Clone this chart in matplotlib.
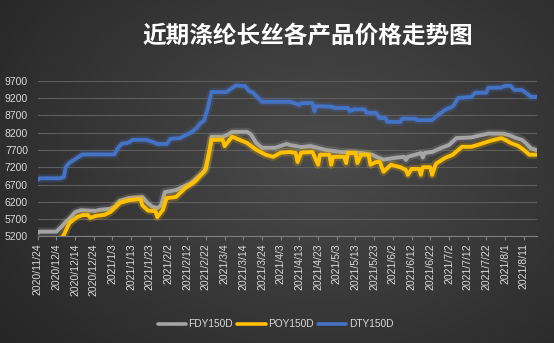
import matplotlib
matplotlib.use("Agg")
import matplotlib.pyplot as plt
import matplotlib.patheffects as pe
import numpy as np
import pandas as pd

plt.rcParams['font.family'] = ['Noto Sans CJK SC', 'DejaVu Sans']

title = "近期涤纶长丝各产品价格走势图"

dty_dates = ["2020-11-24", "2020-11-25", "2020-12-06", "2020-12-08", "2020-12-09", "2020-12-11",
             "2020-12-14", "2020-12-16", "2020-12-18", "2021-01-04", "2021-01-06", "2021-01-08",
             "2021-01-11", "2021-01-14", "2021-01-21", "2021-01-24", "2021-01-27", "2021-02-01",
             "2021-02-03", "2021-02-08", "2021-02-14", "2021-02-17", "2021-02-19", "2021-02-21",
             "2021-02-23", "2021-02-25", "2021-03-05", "2021-03-10", "2021-03-15", "2021-03-17",
             "2021-03-19", "2021-03-21", "2021-03-24", "2021-04-08", "2021-04-13", "2021-04-14",
             "2021-04-20", "2021-04-21", "2021-04-22", "2021-04-30", "2021-05-02", "2021-05-09",
             "2021-05-10", "2021-05-12", "2021-05-18", "2021-05-19", "2021-05-24", "2021-05-26",
             "2021-05-29", "2021-05-30", "2021-06-06", "2021-06-07", "2021-06-14", "2021-06-15",
             "2021-06-23", "2021-06-26", "2021-06-30", "2021-07-04", "2021-07-07", "2021-07-14",
             "2021-07-16", "2021-07-22", "2021-07-23", "2021-07-30", "2021-08-01", "2021-08-04",
             "2021-08-06", "2021-08-10", "2021-08-12", "2021-08-15", "2021-08-18"]
dty_prices = [6830, 6880, 6880, 6920, 7200, 7330,
              7430, 7500, 7570, 7570, 7760, 7880,
              7900, 7990, 7990, 7940, 7870, 7870,
              8020, 8040, 8200, 8330, 8470, 8550,
              8900, 9370, 9370, 9560, 9540, 9400,
              9360, 9250, 9090, 9090, 9000, 9050,
              9050, 8820, 8960, 8950, 8910, 8910,
              8820, 8870, 8870, 8770, 8770, 8620,
              8620, 8510, 8510, 8600, 8600, 8560,
              8560, 8700, 8860, 8950, 9200, 9230,
              9350, 9350, 9490, 9500, 9550, 9550,
              9430, 9430, 9350, 9230, 9230]

fdy_dates = ["2020-11-24", "2020-11-25", "2020-12-04", "2020-12-07", "2020-12-09", "2020-12-11",
             "2020-12-14", "2020-12-17", "2020-12-25", "2020-12-27", "2021-01-02", "2021-01-04",
             "2021-01-07", "2021-01-12", "2021-01-19", "2021-01-22", "2021-01-24", "2021-01-27",
             "2021-01-29", "2021-01-31", "2021-02-06", "2021-02-14", "2021-02-19", "2021-02-22",
             "2021-02-24", "2021-02-25", "2021-03-03", "2021-03-06", "2021-03-08", "2021-03-16",
             "2021-03-18", "2021-03-21", "2021-03-24", "2021-03-31", "2021-04-06", "2021-04-08",
             "2021-04-14", "2021-04-19", "2021-04-27", "2021-05-05", "2021-05-16", "2021-05-22",
             "2021-05-25", "2021-05-28", "2021-06-03", "2021-06-08", "2021-06-09", "2021-06-10",
             "2021-06-14", "2021-06-17", "2021-06-18", "2021-06-19", "2021-06-23", "2021-06-28",
             "2021-07-02", "2021-07-06", "2021-07-14", "2021-07-17", "2021-07-23", "2021-07-31",
             "2021-08-03", "2021-08-07", "2021-08-10", "2021-08-12", "2021-08-15", "2021-08-18"]
fdy_prices = [5300, 5340, 5340, 5500, 5620, 5720,
              5900, 5960, 5940, 5970, 6000, 6050,
              6230, 6310, 6340, 6160, 6070, 6020,
              6100, 6480, 6540, 6740, 6980, 7130,
              7700, 8080, 8080, 8150, 8220, 8220,
              8150, 7900, 7760, 7760, 7870, 7840,
              7780, 7810, 7700, 7640, 7610, 7560,
              7480, 7420, 7470, 7500, 7410, 7500,
              7560, 7610, 7480, 7610, 7640, 7760,
              7840, 8040, 8060, 8100, 8170, 8170,
              8130, 8040, 7990, 7900, 7740, 7690]

poy_dates = ["2020-12-06", "2020-12-08", "2020-12-11", "2020-12-15", "2020-12-18", "2020-12-21",
             "2020-12-22", "2020-12-25", "2020-12-30", "2021-01-02", "2021-01-04", "2021-01-07",
             "2021-01-12", "2021-01-18", "2021-01-19", "2021-01-22", "2021-01-26", "2021-01-27",
             "2021-01-30", "2021-02-01", "2021-02-06", "2021-02-11", "2021-02-16", "2021-02-21",
             "2021-02-22", "2021-02-24", "2021-02-25", "2021-03-03", "2021-03-04", "2021-03-08",
             "2021-03-12", "2021-03-16", "2021-03-21", "2021-03-26", "2021-03-30", "2021-04-03",
             "2021-04-08", "2021-04-11", "2021-04-12", "2021-04-14", "2021-04-20", "2021-04-23",
             "2021-04-24", "2021-04-29", "2021-04-30", "2021-05-01", "2021-05-07", "2021-05-08",
             "2021-05-09", "2021-05-13", "2021-05-14", "2021-05-16", "2021-05-20", "2021-05-21",
             "2021-05-24", "2021-05-26", "2021-05-28", "2021-06-01", "2021-06-06", "2021-06-09",
             "2021-06-10", "2021-06-12", "2021-06-16", "2021-06-17", "2021-06-18", "2021-06-22",
             "2021-06-23", "2021-06-25", "2021-06-30", "2021-07-04", "2021-07-09", "2021-07-14",
             "2021-07-19", "2021-07-24", "2021-07-30", "2021-08-01", "2021-08-04", "2021-08-08",
             "2021-08-11", "2021-08-14", "2021-08-18"]
poy_prices = [5100, 5250, 5590, 5760, 5820, 5820,
              5740, 5790, 5830, 5910, 6020, 6170,
              6250, 6280, 6100, 5950, 5930, 5760,
              5970, 6310, 6340, 6600, 6780, 7070,
              7200, 7700, 7990, 7990, 7810, 8080,
              7990, 7900, 7700, 7560, 7500, 7620,
              7640, 7610, 7350, 7620, 7640, 7270,
              7560, 7560, 7270, 7500, 7500, 7320,
              7610, 7610, 7320, 7560, 7560, 7270,
              7350, 7350, 7070, 7270, 7200, 7120,
              6980, 7150, 7150, 6980, 7200, 7200,
              6980, 7300, 7470, 7560, 7790, 7790,
              7870, 7960, 8040, 7990, 7900, 7820,
              7700, 7560, 7560]

series = [
    ("FDY150D", fdy_dates, fdy_prices, "#A5A5A5"),
    ("POY150D", poy_dates, poy_prices, "#FFC000"),
    ("DTY150D", dty_dates, dty_prices, "#4472C4"),
]

y_ticks = [5200, 5700, 6200, 6700, 7200, 7700, 8200, 8700, 9200, 9700]
start = pd.Timestamp("2020-11-24")
end = pd.Timestamp("2021-08-18")
tick_dates = pd.date_range(start, "2021-08-11", freq="10D")
tick_labels = [f"{d.year}/{d.month}/{d.day}" for d in tick_dates]

fig = plt.figure(figsize=(5.54, 3.43), dpi=100)

# dark radial backdrop, lighter toward the middle
bg = fig.add_axes([0, 0, 1, 1], zorder=0)
yy, xx = np.mgrid[0:1:300j, 0:1:400j]
r = np.sqrt(((xx - 0.58) / 0.75) ** 2 + ((yy - 0.55) / 0.9) ** 2)
r = np.clip(r, 0, 1)
c0 = np.array([0x4b, 0x4b, 0x4b]) / 255
c1 = np.array([0x25, 0x25, 0x25]) / 255
img = c0[None, None, :] * (1 - r[..., None]) + c1[None, None, :] * r[..., None]
bg.imshow(img, extent=[0, 1, 0, 1], aspect="auto", origin="lower")
bg.set_axis_off()

ax = fig.add_axes([0.068, 0.3105, 0.901, 0.4545], zorder=1)
ax.patch.set_alpha(0)

for name, dates, prices, color in series:
    ax.plot(pd.to_datetime(dates), prices, color=color, lw=2.8, label=name,
            solid_joinstyle="round", solid_capstyle="round",
            path_effects=[pe.Stroke(linewidth=6, foreground=color, alpha=0.22),
                          pe.Normal()])

ax.set_xlim(start, end)
ax.set_ylim(5200, 9700)
ax.set_yticks(y_ticks)
ax.set_yticklabels([str(v) for v in y_ticks], color="#D9D9D9", fontsize=7.5,
                   family="Liberation Sans")
ax.set_xticks(tick_dates)
ax.set_xticklabels(tick_labels, rotation=90, color="#D9D9D9", fontsize=7.5,
                   family="Liberation Sans")
ax.grid(axis="y", color="#5E5E5E", lw=0.8)
ax.tick_params(axis="y", length=0, pad=7)
ax.tick_params(axis="x", length=3, color="#7F7F7F", pad=2)
for side in ("top", "right", "left"):
    ax.spines[side].set_visible(False)
ax.spines["bottom"].set_color("#7F7F7F")
ax.spines["bottom"].set_linewidth(0.8)

fig.text(0.556, 0.895, title, ha="center", va="center", color="white",
         fontsize=17, fontweight="bold")

leg = fig.legend(loc="center", bbox_to_anchor=(0.497, 0.055), ncol=3, frameon=False,
                 handlelength=2.8, handletextpad=0.25, columnspacing=0.4,
                 prop={"family": "Liberation Sans", "size": 7.3})
for t in leg.get_texts():
    t.set_color("#D9D9D9")
for h in leg.get_lines():
    h.set_path_effects([])
    h.set_linewidth(2.6)

fig.savefig("out.png", dpi=100)
